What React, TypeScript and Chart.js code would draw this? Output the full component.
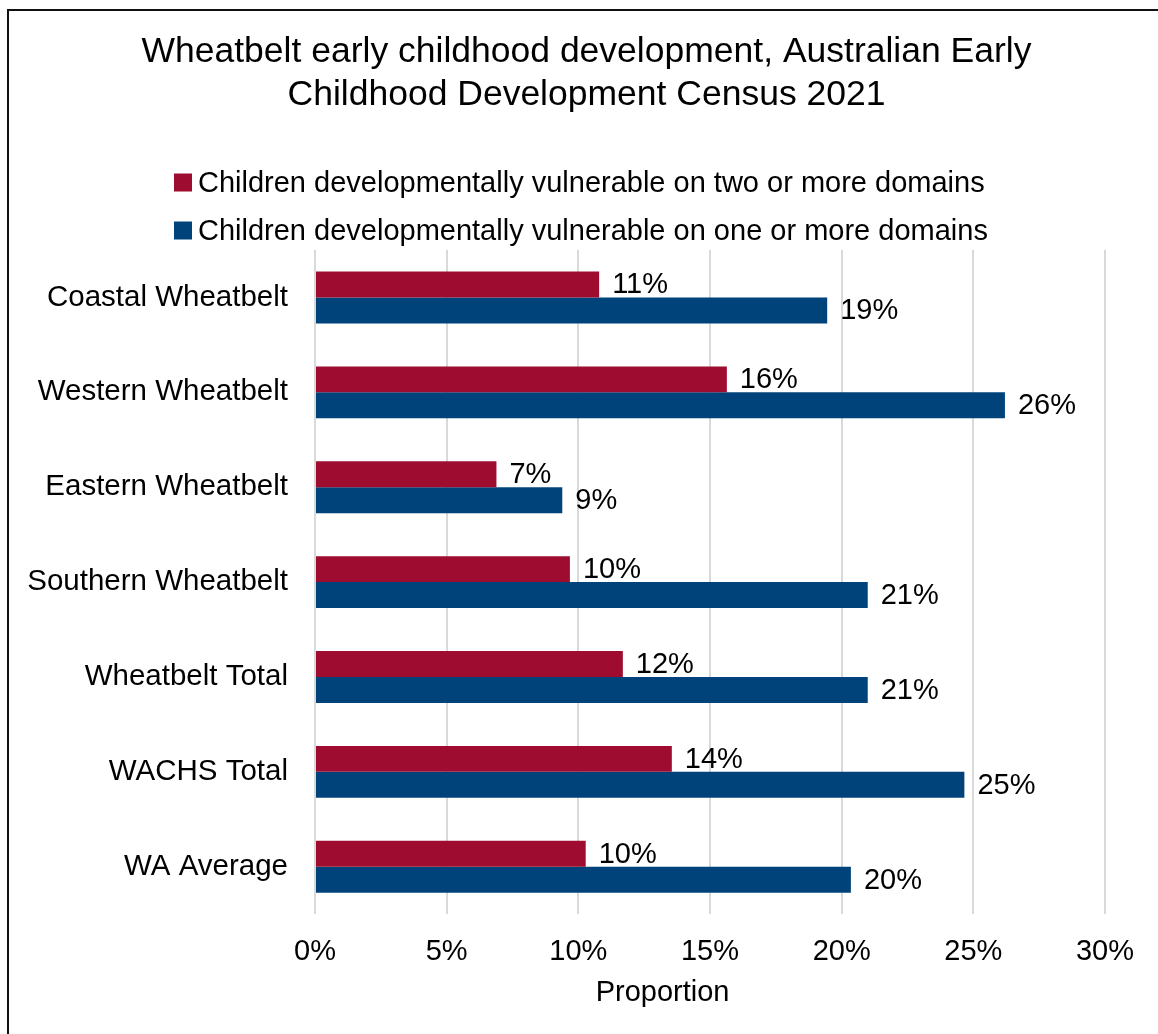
import React, { useEffect, useRef } from "react";
import { Chart, registerables } from "chart.js";

Chart.register(...registerables);

const categories = [
  "Coastal Wheatbelt",
  "Western Wheatbelt",
  "Eastern Wheatbelt",
  "Southern Wheatbelt",
  "Wheatbelt Total",
  "WACHS Total",
  "WA Average",
];
const twoOrMoreDomains = [10.79, 15.64, 6.89, 9.68, 11.69, 13.55, 10.28];
const oneOrMoreDomains = [19.45, 26.2, 9.39, 20.99, 20.99, 24.66, 20.35];
const seriesNames = [
  "Children developmentally vulnerable on two or more domains",
  "Children developmentally vulnerable on one or more domains",
];
const seriesColors = ["#9E0D2F", "#00437A"];
const xMin = 0;
const xMax = 30;
const xStep = 5;
const titleLines = [
  "Wheatbelt early childhood development, Australian Early",
  "Childhood Development Census 2021",
];
const xAxisTitle = "Proportion";

const FONT = "'Liberation Sans', Arial, Helvetica, sans-serif";
const TEXT = "#000000";

const dataLabelPlugin = {
  id: "dataLabels",
  afterDatasetsDraw(chart: any) {
    const ctx = chart.ctx;
    ctx.save();
    ctx.font = `29px ${FONT}`;
    ctx.fillStyle = TEXT;
    ctx.textAlign = "left";
    ctx.textBaseline = "middle";
    chart.data.datasets.forEach((ds: any, i: number) => {
      const meta = chart.getDatasetMeta(i);
      meta.data.forEach((el: any, j: number) => {
        const v = ds.data[j];
        ctx.fillText(`${Math.round(v)}%`, el.x + 13, el.y + 1);
      });
    });
    ctx.restore();
  },
};

const customLegendPlugin = {
  id: "customLegend",
  afterDraw(chart: any) {
    const ctx = chart.ctx;
    ctx.save();
    ctx.font = `29px ${FONT}`;
    ctx.textAlign = "left";
    ctx.textBaseline = "middle";
    const x0 = 174;
    const y0 = 182.5;
    const rowH = 48;
    chart.data.datasets.forEach((ds: any, i: number) => {
      const y = y0 + i * rowH;
      ctx.fillStyle = ds.backgroundColor;
      ctx.fillRect(x0, y - 9, 18, 18);
      ctx.fillStyle = TEXT;
      ctx.fillText(ds.label, x0 + 24, y + 1);
    });
    ctx.restore();
  },
};

const axisTitlePlugin = {
  id: "axisTitleCustom",
  afterDraw(chart: any) {
    const ctx = chart.ctx;
    ctx.save();
    ctx.font = `29px ${FONT}`;
    ctx.fillStyle = TEXT;
    ctx.textAlign = "center";
    ctx.textBaseline = "middle";
    const cx = chart.chartArea.left + (chart.chartArea.right - chart.chartArea.left) * 0.44;
    ctx.fillText(xAxisTitle, cx, 993);
    ctx.restore();
  },
};

export default function App() {
  const canvasRef = useRef<HTMLCanvasElement | null>(null);

  useEffect(() => {
    const canvas = canvasRef.current;
    if (!canvas) return;
    const chart = new Chart(canvas, {
      type: "bar",
      data: {
        labels: categories,
        datasets: [
          {
            label: seriesNames[0],
            data: twoOrMoreDomains,
            backgroundColor: seriesColors[0],
            borderWidth: 0,
            categoryPercentage: 0.547,
            barPercentage: 1.0,
          },
          {
            label: seriesNames[1],
            data: oneOrMoreDomains,
            backgroundColor: seriesColors[1],
            borderWidth: 0,
            categoryPercentage: 0.547,
            barPercentage: 1.0,
          },
        ],
      },
      options: {
        indexAxis: "y",
        responsive: false,
        animation: false,
        devicePixelRatio: 1,
        layout: { padding: { left: 68, right: 53, top: 0, bottom: 45 } },
        plugins: {
          legend: { display: false },
          tooltip: { enabled: false },
          title: {
            display: true,
            text: titleLines,
            color: TEXT,
            font: { family: FONT, size: 35.5, weight: "normal", lineHeight: 43 / 35.5 },
            padding: { top: 31, bottom: 133 },
          },
        },
        scales: {
          x: {
            type: "linear",
            min: xMin,
            max: xMax,
            ticks: {
              stepSize: xStep,
              color: TEXT,
              font: { family: FONT, size: 29 },
              padding: 20,
              callback: (v: any) => `${v}%`,
            },
            grid: { color: "#d9d9d9", lineWidth: 2, drawTicks: false },
            border: { display: false },
          },
          y: {
            type: "category",
            ticks: {
              color: TEXT,
              font: { family: FONT, size: 29.5 },
              padding: 27,
            },
            grid: { display: false, drawTicks: false },
            border: { display: false },
            afterFit: (scale: any) => {
              scale.width = 247;
              scale._computeLabelArea = () => undefined;
            },
          },
        },
      },
      plugins: [dataLabelPlugin, customLegendPlugin, axisTitlePlugin],
    });
    return () => chart.destroy();
  }, []);

  return (
    <>
      <div
        style={{
          position: "absolute",
          left: 7,
          top: 9,
          width: 1149,
          height: 1023,
          borderTop: "2px solid #111",
          borderLeft: "2px solid #111",
          background: "#fff",
        }}
      />
      <canvas
        ref={canvasRef}
        width={1158}
        height={1034}
        style={{ position: "absolute", left: 0, top: 0, width: 1158, height: 1034 }}
      />
    </>
  );
}
